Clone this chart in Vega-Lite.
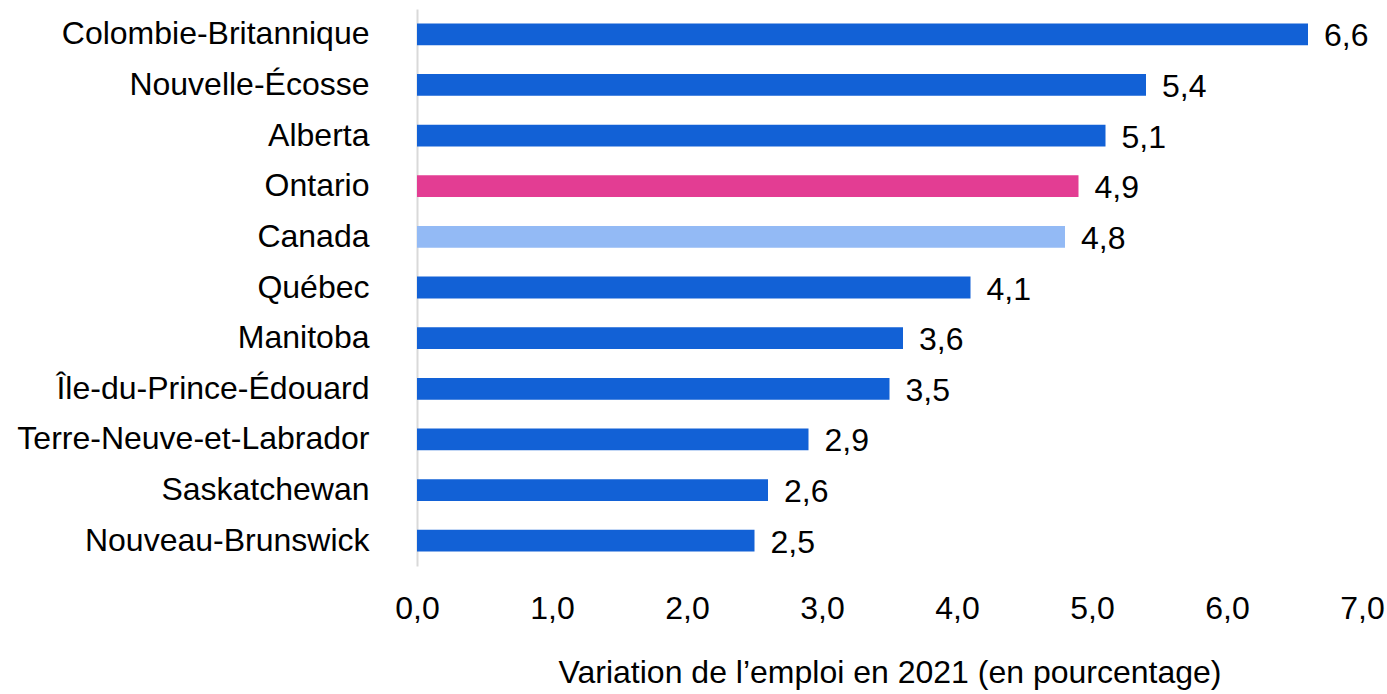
{
  "$schema": "https://vega.github.io/schema/vega-lite/v6.json",
  "autosize": "none",
  "width": 945,
  "height": 557,
  "padding": {"left": 417, "top": 9, "right": 25, "bottom": 128},
  "background": "white",
  "config": {"view": {"stroke": null}, "font": "Liberation Sans"},
  "data": {
    "values": [
      {"region": "Colombie-Britannique", "valeur": 6.6, "groupe": "province"},
      {"region": "Nouvelle-Écosse", "valeur": 5.4, "groupe": "province"},
      {"region": "Alberta", "valeur": 5.1, "groupe": "province"},
      {"region": "Ontario", "valeur": 4.9, "groupe": "ontario"},
      {"region": "Canada", "valeur": 4.8, "groupe": "canada"},
      {"region": "Québec", "valeur": 4.1, "groupe": "province"},
      {"region": "Manitoba", "valeur": 3.6, "groupe": "province"},
      {"region": "Île-du-Prince-Édouard", "valeur": 3.5, "groupe": "province"},
      {"region": "Terre-Neuve-et-Labrador", "valeur": 2.9, "groupe": "province"},
      {"region": "Saskatchewan", "valeur": 2.6, "groupe": "province"},
      {"region": "Nouveau-Brunswick", "valeur": 2.5, "groupe": "province"}
    ]
  },
  "encoding": {
    "y": {
      "field": "region",
      "type": "nominal",
      "sort": null,
      "scale": {"paddingInner": 0.57, "paddingOuter": 0.285},
      "axis": {
        "title": null,
        "ticks": false,
        "domain": true,
        "domainColor": "#d9d9d9",
        "domainWidth": 2,
        "labelFont": "Liberation Sans",
        "labelFontSize": 32,
        "labelColor": "#000000",
        "labelPadding": 48,
        "labelLimit": 420
      }
    },
    "x": {
      "field": "valeur",
      "type": "quantitative",
      "scale": {"domain": [0, 7], "nice": false},
      "axis": {
        "title": "Variation de l’emploi en 2021 (en pourcentage)",
        "titleFont": "Liberation Sans",
        "titleFontSize": 32,
        "titleFontWeight": "normal",
        "titleColor": "#000000",
        "titlePadding": 33,
        "values": [0, 1, 2, 3, 4, 5, 6, 7],
        "labelExpr": "replace(format(datum.value, '.1f'), '.', ',')",
        "labelFont": "Liberation Sans",
        "labelFontSize": 32,
        "labelColor": "#000000",
        "labelPadding": 27,
        "labelFlush": false,
        "labelOverlap": false,
        "ticks": false,
        "domain": false,
        "grid": false
      }
    }
  },
  "layer": [
    {
      "mark": {"type": "bar"},
      "encoding": {
        "color": {
          "field": "groupe",
          "type": "nominal",
          "scale": {"domain": ["province", "ontario", "canada"], "range": ["#1261D6", "#E33D93", "#93BAF5"]},
          "legend": null
        }
      }
    },
    {
      "mark": {"type": "text", "align": "left", "baseline": "middle", "dx": 16, "dy": 2, "font": "Liberation Sans", "fontSize": 32, "color": "#000000",
        "text": {"expr": "replace(format(datum.valeur, '.1f'), '.', ',')"}}
    }
  ]
}
